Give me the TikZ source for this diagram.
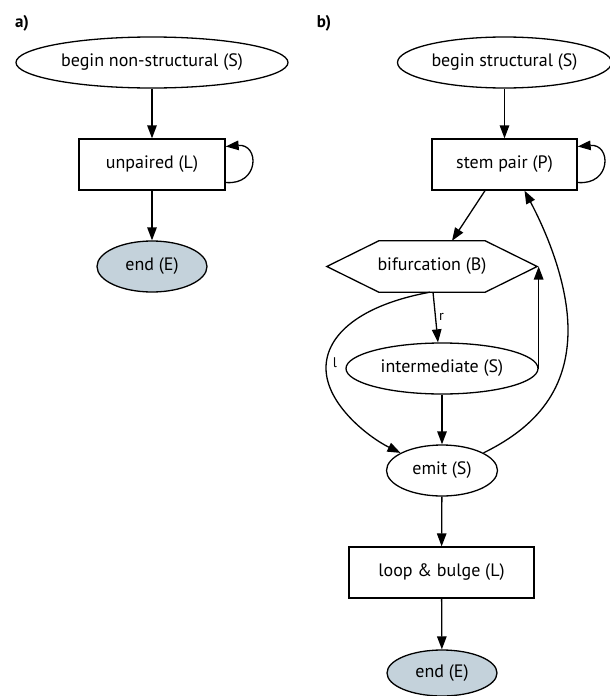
\documentclass[tikz,border=0pt]{standalone}
\usepackage{fontspec}
\setmainfont{PT Sans}
\usetikzlibrary{arrows.meta,shapes.geometric,calc}
\definecolor{endfill}{RGB}{196,210,219}
\begin{document}
\begin{tikzpicture}[x=1pt,y=-1pt,
  font=\fontsize{18}{21}\selectfont,
  every node/.style={inner sep=0pt},
  ell/.style={draw, ellipse, line width=1.3pt, minimum height=51pt},
  box/.style={draw, rectangle, line width=1.3pt, minimum height=51pt},
  endnode/.style={ell, fill=endfill},
  conn/.style={line width=1.3pt, -{Triangle[length=13pt,width=9.5pt]}},
  lab/.style={font=\fontsize{14}{16}\selectfont},
  panel/.style={font=\fontsize{17}{19}\selectfont\bfseries}]
\useasboundingbox (0,0) rectangle (610,696);

% panel a
\node[panel] (pa) at (22,23) {a)};
\node[ell, minimum width=272pt, label=center:{begin non-structural (S)}] (bns) at (152,62.5) {};
\node[box, minimum width=146pt] (unp) at (152,164.5) {unpaired (L)};
\node[endnode, minimum width=110pt, label=center:{end (E)}] (enda) at (152,266.5) {};

\draw[conn] (bns) -- (unp);
\draw[conn] ($(unp.east)+(0,18)$) .. controls +(34,3) and +(34,-3) .. ($(unp.east)+(0,-18)$);
\draw[conn] (unp) -- (enda);

% panel b
\node[panel] (pb) at (324,23) {b)};
\node[ell, minimum width=214pt, label=center:{begin structural (S)}] (bs) at (504.5,62.5) {};
\node[box, minimum width=145pt] (sp) at (504.5,164.5) {stem pair (P)};
\node[minimum width=210pt, minimum height=51pt] (bif) at (432,266.5) {bifurcation (B)};
\draw[line width=1.3pt] (bif.west) -- ($(bif.north west)+(52,0)$) -- ($(bif.north east)+(-52,0)$)
  -- (bif.east) -- ($(bif.south east)+(-52,0)$) -- ($(bif.south west)+(52,0)$) -- cycle;
\node[ell, minimum width=192pt, label=center:{intermediate (S)}] (int) at (442,368.5) {};
\node[ell, minimum width=111pt, label=center:{emit (S)}] (emit) at (442,470.5) {};
\node[box, minimum width=185pt] (lb) at (441.5,572.5) {loop \& bulge (L)};
\node[endnode, minimum width=110pt, minimum height=46pt, label=center:{end (E)}] (endb) at (442,673) {};

\draw[conn] (bs) -- (sp);
\draw[conn] ($(sp.east)+(0,18)$) .. controls +(34,3) and +(34,-3) .. ($(sp.east)+(0,-18)$);
\draw[conn] ($(sp.south)+(-19.5,0)$) -- ($(bif.north)+(20,0)$);
\draw[conn] ($(bif.south)+(1,0)$) -- node[lab, right=3pt] (rlab) {r} ($(int.north)+(-4,0)$);
\draw[conn] ($(bif.south)+(-2,0)$) .. controls (360,305) and (326,335) .. (326,368)
  .. controls (326,405) and (370,438) .. (emit.157);
\node[lab] (llab) at (335,363) {l};
\draw[conn] (int.east) -- (int.east |- bif.east);
\draw[conn] (int) -- (emit);
\draw[conn] (emit.23) .. controls (530,430) and (568,395) .. (568,330)
  .. controls (568,285) and (548,235) .. ($(sp.south)+(20,0)$);
\draw[conn] (emit) -- (lb);
\draw[conn] (lb) -- (endb);
\end{tikzpicture}
\end{document}
